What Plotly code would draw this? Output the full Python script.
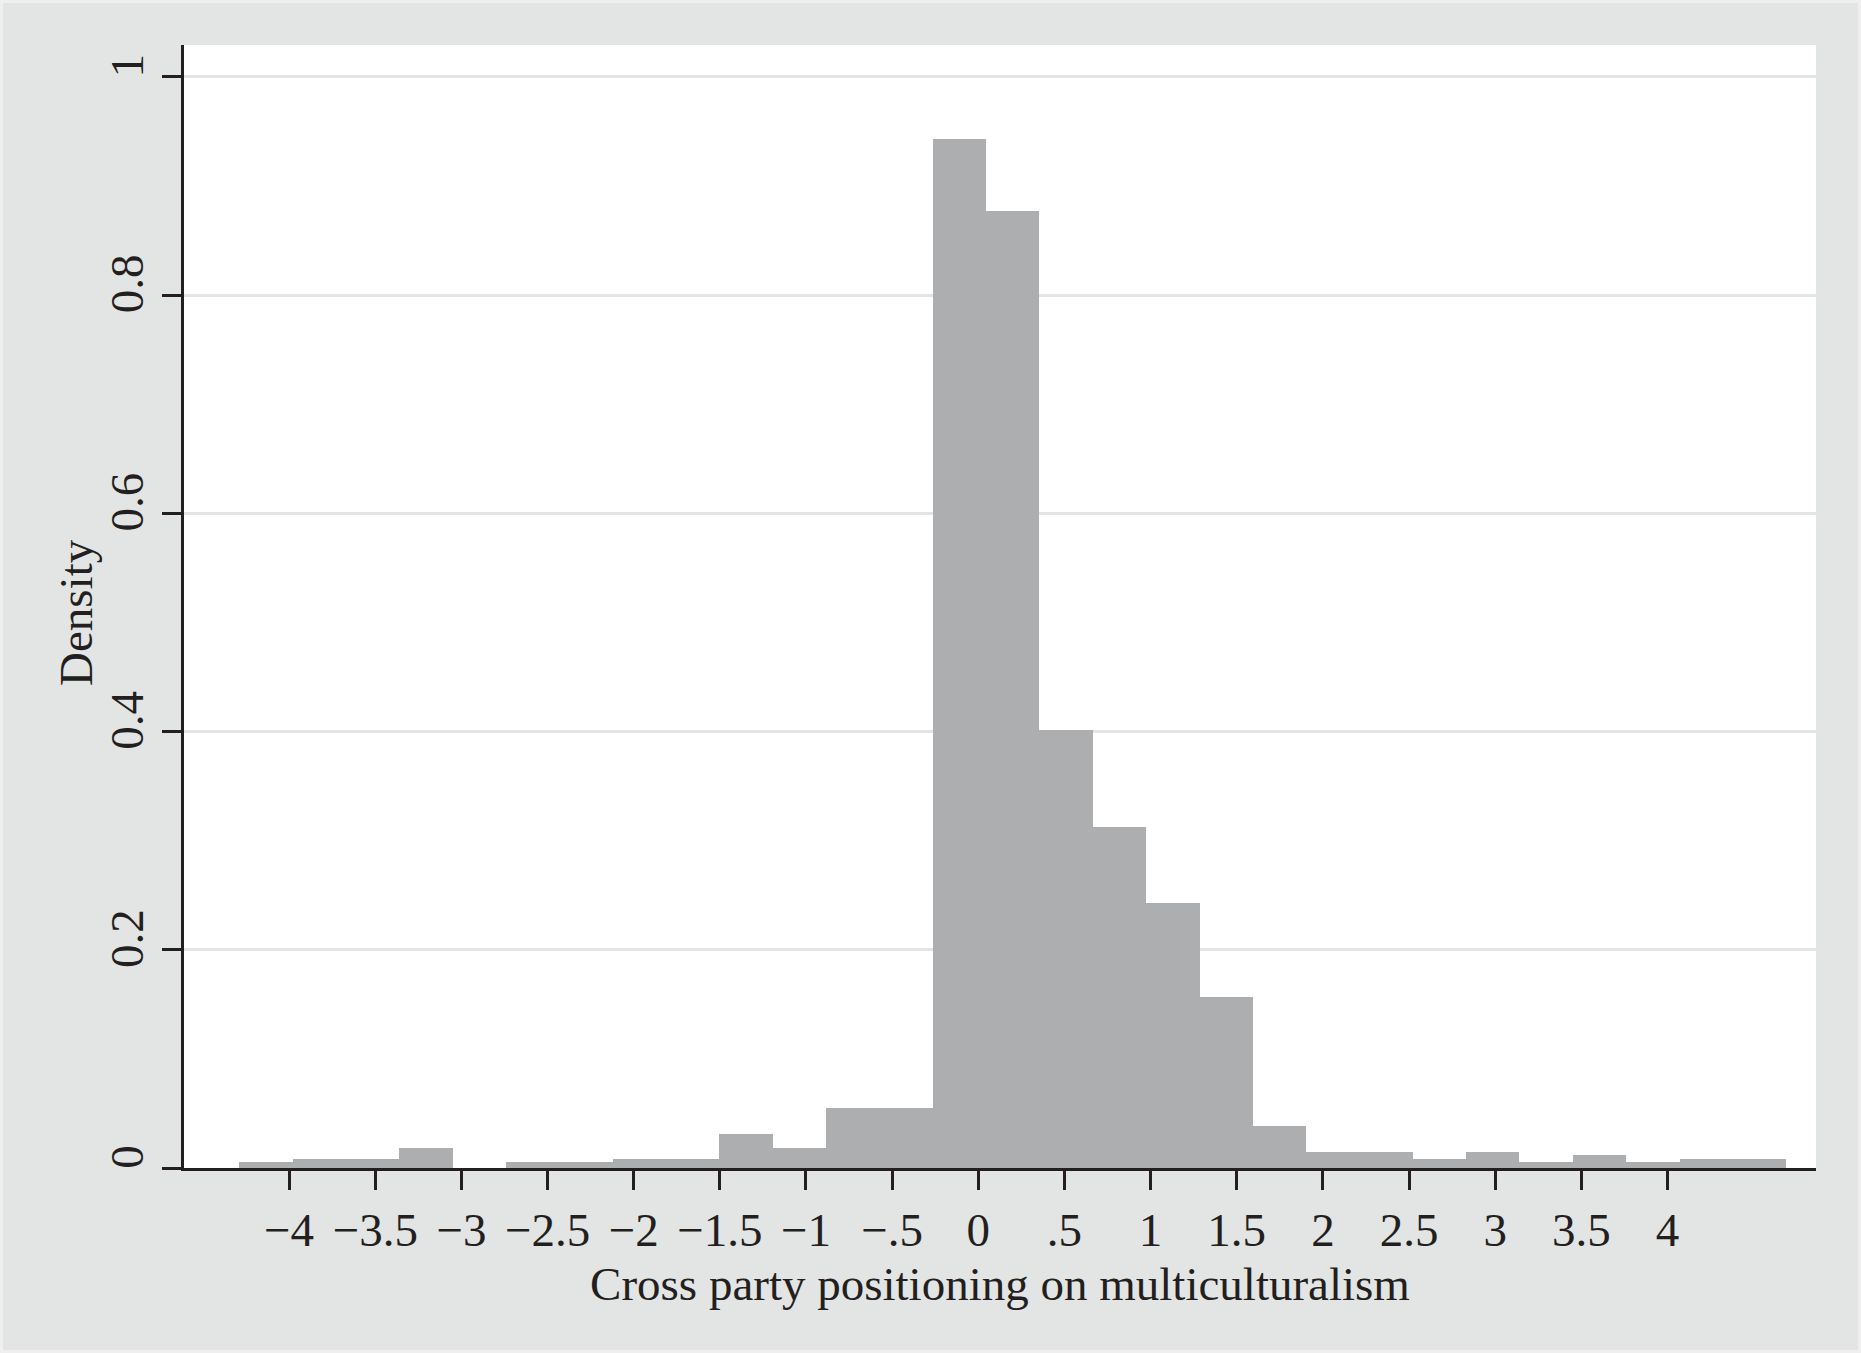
import plotly.graph_objects as go

# Histogram bin edges (29 equal bins)
bin_edges = [-4.289, -3.979, -3.670, -3.360, -3.051, -2.741, -2.431, -2.122,
             -1.812, -1.503, -1.193, -0.884, -0.574, -0.264, 0.045, 0.355,
             0.664, 0.974, 1.284, 1.593, 1.903, 2.212, 2.522, 2.832, 3.141,
             3.451, 3.760, 4.070, 4.380, 4.689]
# Density of each bin
density = [0.0052, 0.0082, 0.0082, 0.0181, 0.0, 0.0052, 0.0052, 0.0082,
           0.0082, 0.0314, 0.0181, 0.0547, 0.0547, 0.9427, 0.8770, 0.4014,
           0.3122, 0.2426, 0.1567, 0.0382, 0.0149, 0.0149, 0.0082, 0.0149,
           0.0052, 0.0119, 0.0052, 0.0082, 0.0082]

x_tickvals = [-4, -3.5, -3, -2.5, -2, -1.5, -1, -0.5, 0, 0.5, 1, 1.5, 2, 2.5, 3, 3.5, 4]
x_ticktext = ["\u22124", "\u22123.5", "\u22123", "\u22122.5", "\u22122", "\u22121.5",
              "\u22121", "\u2212.5", "0", ".5", "1", "1.5", "2", "2.5", "3", "3.5", "4"]
y_tickvals = [0, 0.2, 0.4, 0.6, 0.8, 1]
y_ticktext = ["0", "0.2", "0.4", "0.6", "0.8", "1"]

x_title = "Cross party positioning on multiculturalism"
y_title = "Density"

lefts = bin_edges[:-1]
widths = [b - a for a, b in zip(bin_edges[:-1], bin_edges[1:])]

FONT = "Liberation Serif, Times New Roman, serif"
INK = "#231f20"
BG = "#e3e5e4"
FS = 47

fig = go.Figure()
fig.add_trace(go.Bar(
    x=lefts, y=density, width=widths, offset=0,
    marker=dict(color="#adaeb0", line=dict(width=0)),
    showlegend=False, hoverinfo="skip",
))

W, H = 1861, 1353
L, R, T, B = 184, 45, 45, 185
pw, ph = W - L - R, H - T - B

fig.update_layout(
    width=W, height=H,
    margin=dict(l=L, r=R, t=T, b=B, pad=0),
    paper_bgcolor=BG, plot_bgcolor="white",
    font=dict(family=FONT, size=FS, color=INK),
    bargap=0,
    xaxis=dict(
        range=[-4.610, 4.862], tickmode="array", tickvals=x_tickvals, ticktext=x_ticktext,
        showgrid=False, zeroline=False, showline=True, linecolor=INK, linewidth=3,
        ticks="outside", ticklen=19, tickwidth=3, tickcolor=INK,
        tickfont=dict(family=FONT, size=FS, color=INK),
        title=dict(text=x_title, font=dict(family=FONT, size=FS, color=INK), standoff=12),
        automargin=False, fixedrange=True,
    ),
    yaxis=dict(
        range=[0, 1.0291], tickmode="array", tickvals=y_tickvals, ticktext=y_ticktext,
        tickangle=-90, ticklabelshift=-4,
        showgrid=True, gridcolor="#e3e5e4", gridwidth=3,
        zeroline=False, showline=True, linecolor=INK, linewidth=3,
        ticks="outside", ticklen=19, tickwidth=3, tickcolor=INK,
        tickfont=dict(family=FONT, size=FS, color=INK),
        automargin=False, fixedrange=True,
    ),
)

# y-axis title as a rotated annotation for precise placement
fig.add_annotation(
    text=y_title, textangle=-90, showarrow=False,
    xref="paper", yref="paper",
    x=(76 - L) / pw, y=(ph - (613 - T)) / ph,
    xanchor="center", yanchor="middle",
    font=dict(family=FONT, size=FS, color=INK),
)

# thin lighter frame around the whole figure
fig.add_shape(
    type="rect", xref="paper", yref="paper",
    x0=(1.5 - L) / pw, x1=(W - 1.5 - L) / pw,
    y0=-(B - 1.5) / ph, y1=(ph + T - 1.5) / ph,
    line=dict(color="#efefef", width=3), fillcolor="rgba(0,0,0,0)", layer="below",
)

fig.write_html("out.html", config={"displayModeBar": False},
               post_script="document.body.style.margin='0';document.body.style.padding='0';")
